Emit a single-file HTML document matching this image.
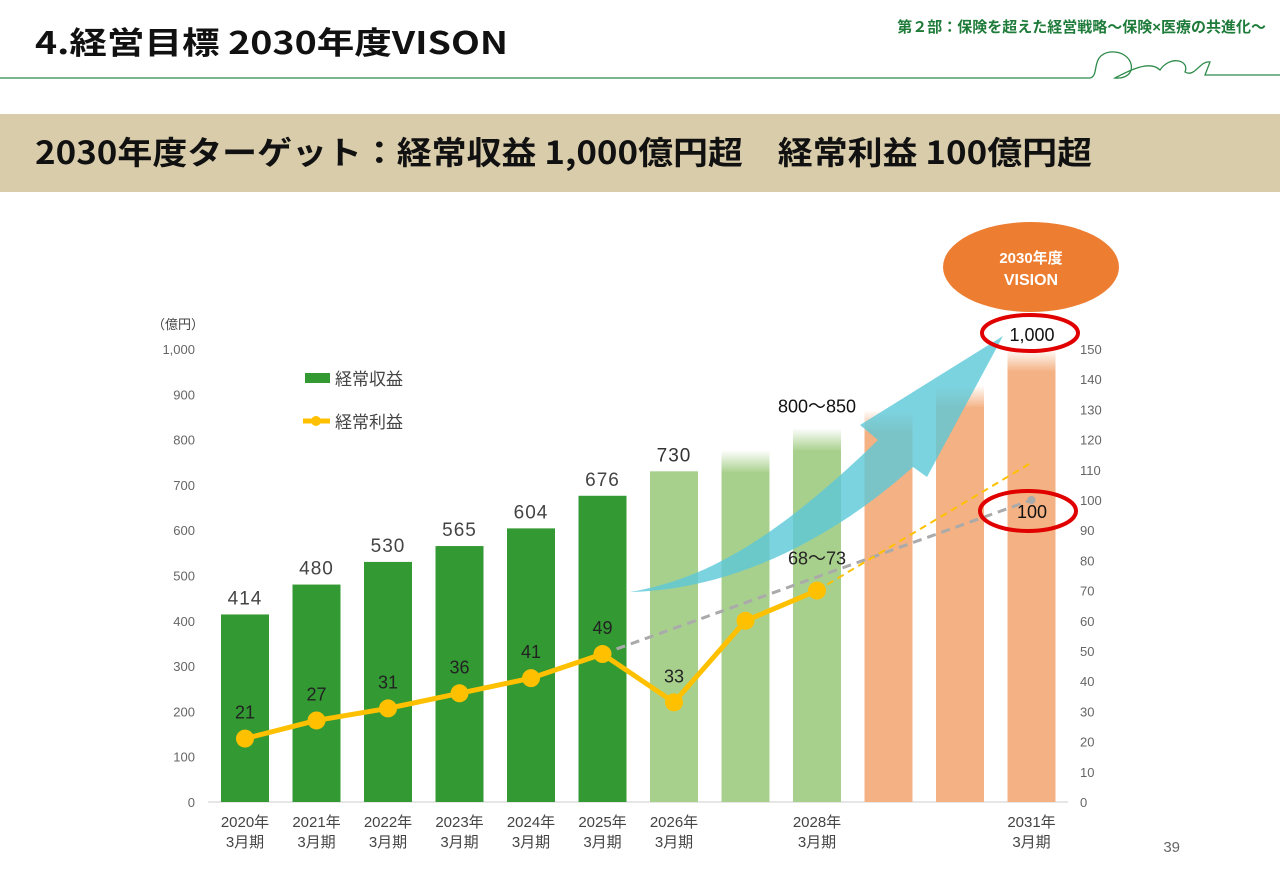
<!DOCTYPE html>
<html><head><meta charset="utf-8"><style>
body{margin:0;width:1280px;height:886px;background:#fff;overflow:hidden;font-family:"Liberation Sans","Noto Sans CJK JP",sans-serif;}
</style></head><body>
<svg width="1280" height="886" viewBox="0 0 1280 886" font-family="Liberation Sans, Noto Sans CJK JP, sans-serif">
<defs>
<linearGradient id="fadeG" x1="0" y1="0" x2="0" y2="1"><stop offset="0" stop-color="#a8d08d" stop-opacity="0"/><stop offset="1" stop-color="#a8d08d"/></linearGradient>
<linearGradient id="fadeO" x1="0" y1="0" x2="0" y2="1"><stop offset="0" stop-color="#f4b183" stop-opacity="0"/><stop offset="1" stop-color="#f4b183"/></linearGradient>
</defs>
<text x="35" y="54" font-size="31" font-weight="bold" fill="#111" font-family="Noto Sans CJK JP, sans-serif" textLength="473" lengthAdjust="spacingAndGlyphs">4.経営目標 2030年度VISON</text>
<text x="1266" y="32" font-size="15" font-weight="bold" fill="#1e7b3a" text-anchor="end">第２部：保険を超えた経営戦略～保険×医療の共進化～</text>
<path d="M0 78 L1090 78 C1100 76,1090 55,1110 52 C1135 50,1140 80,1115 78 C1130 70,1150 60,1160 70 C1170 55,1190 60,1185 72 C1195 78,1200 60,1210 62 L1205 75 L1280 75" stroke="#2e8b4a" stroke-width="1.3" fill="none"/>
<rect x="0" y="114" width="1280" height="78" fill="#d9ccaa"/>
<text x="35" y="164" font-size="32" font-weight="bold" fill="#111" font-family="Noto Sans CJK JP, sans-serif" textLength="1057" lengthAdjust="spacingAndGlyphs">2030年度ターゲット：経常収益 1,000億円超　経常利益 100億円超</text>
<g id="chart"></g>
<text x="1180" y="852" font-size="15" fill="#666" text-anchor="end">39</text>
</svg>
<script>
const categories=["2020年|3月期","2021年|3月期","2022年|3月期","2023年|3月期","2024年|3月期","2025年|3月期","2026年|3月期","","2028年|3月期","","","2031年|3月期"];
const revenue=[414,480,530,565,604,676,730,777,825,865,920,1000];
const revenueLabels=["414","480","530","565","604","676","730","","800～850","","","1,000"];
const profit=[21,27,31,36,41,49,33,60,70];
const profitLabels=["21","27","31","36","41","49","33","","68～73"];
const trendGray=[[5,49],[11,100]];
const trendYellow=[[8,70],[11,112]];
const leftTicks=[0,100,200,300,400,500,600,700,800,900,1000];
const rightTicks=[0,10,20,30,40,50,60,70,80,90,100,110,120,130,140,150];
const NS="http://www.w3.org/2000/svg";
const g=document.getElementById('chart');
const y0=802,yTop=349;
const yL=v=>y0-(y0-yTop)*v/1000;
const yR=v=>y0-(y0-yTop)*v/150;
const xC=i=>245+i*71.5;
function mk(t,a,p){const e=document.createElementNS(NS,t);for(const k in a)e.setAttribute(k,a[k]);(p||g).appendChild(e);return e;}
function txt(x,y,s,a){const e=mk('text',Object.assign({x:x,y:y},a));e.textContent=s;return e;}
leftTicks.forEach(v=>{const t=txt(195,yL(v)+5,v.toLocaleString('en-US'),{'font-size':13,fill:'#666','text-anchor':'end'});

});
rightTicks.forEach(v=>{const t=txt(1080,yR(v)+5,String(v),{'font-size':13,fill:'#666'});

});
const u=txt(152,329,'（億円）',{'font-size':13,fill:'#444'});


const ax=mk('line',{x1:208,y1:y0,x2:1068,y2:y0,stroke:'#ccc','stroke-width':1});


revenue.forEach((v,i)=>{
 const x=xC(i)-24,top=yL(v);let fill,fadeFill=null;
 if(i<6)fill='#339933';else if(i<9){fill='#a8d08d';if(i>=7)fadeFill='url(#fadeG)';}else{fill='#f4b183';fadeFill='url(#fadeO)';}
 const fh=fadeFill?22:0;
 const r=mk('rect',{x:x,y:top+fh,width:48,height:y0-top-fh,fill:fill});
 
 
 if(fadeFill){const f=mk('rect',{x:x,y:top,width:48,height:fh+1,fill:fadeFill});
 
 }
 const lab=revenueLabels[i];
 if(lab&&i<8){const t=txt(xC(i),top-10,lab,{'font-size':19,fill:i<6?'#444':'#333','text-anchor':'middle','letter-spacing':'1'});
 
 }
 if(i===8){const t=txt(xC(i),yL(v)-16,lab,{'font-size':18,fill:'#111','text-anchor':'middle'});
 
 }
 if(categories[i]){const p=categories[i].split('|');
 const a=txt(xC(i),827,p[0],{'font-size':15,fill:'#444','text-anchor':'middle'});
 
 
 const b=txt(xC(i),847,p[1],{'font-size':15,fill:'#444','text-anchor':'middle'});
 
 }
});
// arrow
const arr=mk('path',{d:'M630 592 C700 580,770 545,878 440 L860 425 L1003 336 L927 477 L913 467 C820 550,720 590,630 592 Z',fill:'#5bc8d8','fill-opacity':0.8});


const tg=mk('line',{x1:xC(trendGray[0][0]),y1:yR(trendGray[0][1]),x2:xC(trendGray[1][0]),y2:yR(trendGray[1][1]),stroke:'#aaa','stroke-width':3,'stroke-dasharray':'9 6'});


const ty=mk('line',{x1:xC(trendYellow[0][0]),y1:yR(trendYellow[0][1]),x2:xC(trendYellow[1][0])-2,y2:yR(trendYellow[1][1]),stroke:'#ffc000','stroke-width':2,'stroke-dasharray':'7 5'});


const gd=mk('circle',{cx:xC(11),cy:yR(100),r:4,fill:'#aaa'});


const pl=mk('polyline',{points:profit.map((v,i)=>xC(i)+','+yR(v)).join(' '),fill:'none',stroke:'#ffc000','stroke-width':5,'stroke-linejoin':'round'});


profit.forEach((v,i)=>{
 const c=mk('circle',{cx:xC(i),cy:yR(v),r:9,fill:'#ffc000'});
 
 
 if(profitLabels[i]){const t=txt(xC(i),yR(v)-(i===8?26:20),profitLabels[i],{'font-size':18,fill:'#222','text-anchor':'middle'});
 
 }
});
// legend
const lr=mk('rect',{x:305,y:373,width:25,height:10,fill:'#339933'});


const lt=txt(335,385,'経常収益',{'font-size':17,fill:'#444'});


const ll=mk('line',{x1:303,y1:421,x2:330,y2:421,stroke:'#ffc000','stroke-width':5});


const lc=mk('circle',{cx:316,cy:421,r:5,fill:'#ffc000'});


const lt2=txt(335,428,'経常利益',{'font-size':17,fill:'#444'});


// vision
const ve=mk('ellipse',{cx:1031,cy:267,rx:88,ry:45,fill:'#ed7d31'});


const v1=txt(1031,263,'2030年度',{'font-size':15,fill:'#fff','text-anchor':'middle','font-weight':'bold'});


const v2=txt(1031,285,'VISION',{'font-size':16,fill:'#fff','text-anchor':'middle','font-weight':'bold'});


const t1=txt(1032,341,'1,000',{'font-size':18,fill:'#111','text-anchor':'middle'});


const t2=txt(1032,518,'100',{'font-size':18,fill:'#111','text-anchor':'middle'});


const r1=mk('ellipse',{cx:1030,cy:333,rx:48,ry:18,fill:'none',stroke:'#e00000','stroke-width':4});


const r2=mk('ellipse',{cx:1028,cy:511,rx:48,ry:20,fill:'none',stroke:'#e00000','stroke-width':4});


</script>
</body></html>
